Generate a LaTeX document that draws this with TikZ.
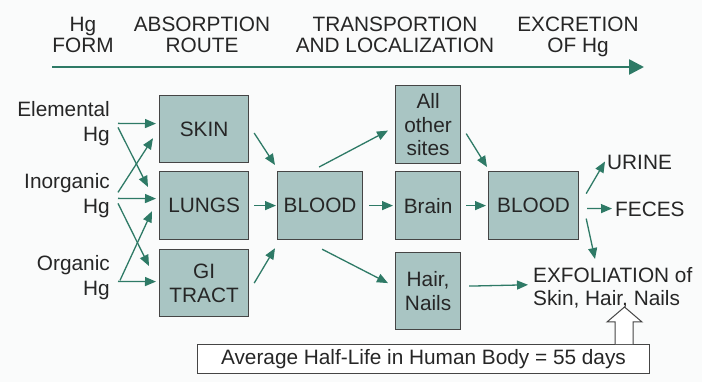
\documentclass[tikz,border=0pt]{standalone}
\usepackage{fontspec}
\setmainfont{Liberation Sans}
\usetikzlibrary{arrows.meta,calc}
\definecolor{boxfill}{HTML}{A9C5C3}
\definecolor{boxline}{HTML}{454545}
\definecolor{txt}{HTML}{262626}
\definecolor{arr}{HTML}{2E7A66}
\definecolor{bg}{HTML}{FAFBFB}
\begin{document}
\begin{tikzpicture}[x=1pt,y=-1pt,
  every node/.style={text=txt, font=\fontsize{20.8}{23.5}\selectfont, inner sep=0pt},
  stage/.style={align=center, anchor=north, font=\fontsize{20.8}{21}\selectfont},
  src/.style={align=right, anchor=north east, font=\fontsize{20.8}{25}\selectfont},
  hgbox/.style={draw=boxline, fill=boxfill, line width=1.2pt, align=center, anchor=north west},
  flow/.style={draw=arr, line width=1.3pt, -{Triangle[length=11pt,width=9pt]}},
  timeline/.style={draw=arr, line width=2.6pt, -{Triangle[length=15pt,width=15pt]}}
  ]
\fill[bg] (0,0) rectangle (702,382);
\useasboundingbox (0,0) rectangle (702,382);

% header
\node[stage] (hgform) at (83,17) {Hg\\FORM};
\node[stage] (absroute) at (202,17) {ABSORPTION\\ROUTE};
\node[stage] (transp) at (395,17) {TRANSPORTION\\AND LOCALIZATION};
\node[stage] (excr) at (578,17) {EXCRETION\\OF Hg};
\coordinate (tl0) at (52,67);
\coordinate (tl1) at (644,67);
\draw[timeline] (tl0) -- (tl1);

% sources
\node[src] (elem) at (110,101) {Elemental\\Hg};
\node[src] (inorg) at (110,173) {Inorganic\\Hg};
\node[src] (org) at (110,255) {Organic\\Hg};

% boxes
\node[hgbox, minimum width=89pt, minimum height=67pt] (skin) at (159,95) {SKIN};
\node[hgbox, minimum width=89pt, minimum height=68pt] (lungs) at (159,171) {LUNGS};
\node[hgbox, minimum width=89pt, minimum height=67pt] (gi) at (159,249) {GI\\TRACT};
\node[hgbox, minimum width=85pt, minimum height=68pt] (blood1) at (277,171) {BLOOD};
\node[hgbox, minimum width=65pt, minimum height=78pt] (other) at (395,85) {All\\other\\sites};
\node[hgbox, minimum width=65pt, minimum height=68pt] (brain) at (395,171) {Brain};
\node[hgbox, minimum width=65pt, minimum height=77pt] (hair) at (395,252) {Hair,\\Nails};
\node[hgbox, minimum width=90pt, minimum height=68pt] (blood2) at (488,171) {BLOOD};

% excretion targets
\node[anchor=north west] (urine) at (607,155) {URINE};
\node[anchor=north west] (feces) at (615,202) {FECES};
\node[anchor=north west, align=left] (exfo) at (533,267) {EXFOLIATION of\\Skin, Hair, Nails};

% half-life box
\node[draw=boxline, fill=white, line width=1pt, anchor=north west,
      minimum width=452pt, minimum height=29pt] (half) at (197,344)
      {Average Half-Life in Human Body = 55 days};
\draw[draw=boxline, fill=white, line width=1pt]
  ($(half.north west)+(418,0)$) -- ++(0,-22) -- ++(-8,0) -- ++(17.5,-15)
  -- ++(17.5,15) -- ++(-9,0) -- ++(0,22);

% source arrows
\draw[flow] ($(elem.east)+(8,0)$) -- ($(skin.west)+(-3,-5.5)$);
\draw[flow] ($(elem.east)+(8,4)$) -- ($(lungs.north west)+(-11,16)$);
\draw[flow] ($(inorg.east)+(8,-3)$) -- ($(skin.south west)+(-6,-25)$);
\draw[flow] ($(inorg.east)+(8,3)$) -- ($(lungs.west)+(-3,-7)$);
\draw[flow] ($(inorg.east)+(8,8)$) -- ($(gi.north west)+(-10,17)$);
\draw[flow] ($(org.east)+(10,3)$) -- ($(lungs.south west)+(-7,-29)$);
\draw[flow] ($(org.east)+(8,4)$) -- ($(gi.west)+(-3,-1.5)$);

% to blood
\draw[flow] ($(skin.east)+(5,4)$) -- ($(blood1.north west)+(-2,-6)$);
\draw[flow] ($(lungs.east)+(5,0)$) -- ($(blood1.west)+(-1,0)$);
\draw[flow] ($(gi.east)+(5,0)$) -- ($(blood1.south west)+(-2,8)$);

% distribution
\draw[flow] ($(blood1.north)+(-1,-4)$) -- ($(other.west)+(-7,6)$);
\draw[flow] ($(blood1.east)+(6,0)$) -- ($(brain.west)+(-2,0)$);
\draw[flow] ($(blood1.south)+(2,9)$) -- ($(hair.west)+(-7,-8)$);

% to blood 2
\draw[flow] ($(other.east)+(5,9)$) -- ($(blood2.north west)+(-1,-4)$);
\draw[flow] ($(brain.east)+(5,0)$) -- ($(blood2.west)+(-2,0)$);
\draw[flow] ($(hair.east)+(8,-5)$) -- ($(exfo.west)+(-5,-3)$);

% excretion
\draw[flow] ($(blood2.east)+(7,-12)$) -- ($(urine.west)+(-2,-1)$);
\draw[flow] ($(blood2.east)+(8,3)$) -- ($(feces.west)+(-3,-1)$);
\draw[flow] ($(blood2.east)+(7,13)$) -- ($(exfo.north west)+(62,-8)$);
\end{tikzpicture}
\end{document}
